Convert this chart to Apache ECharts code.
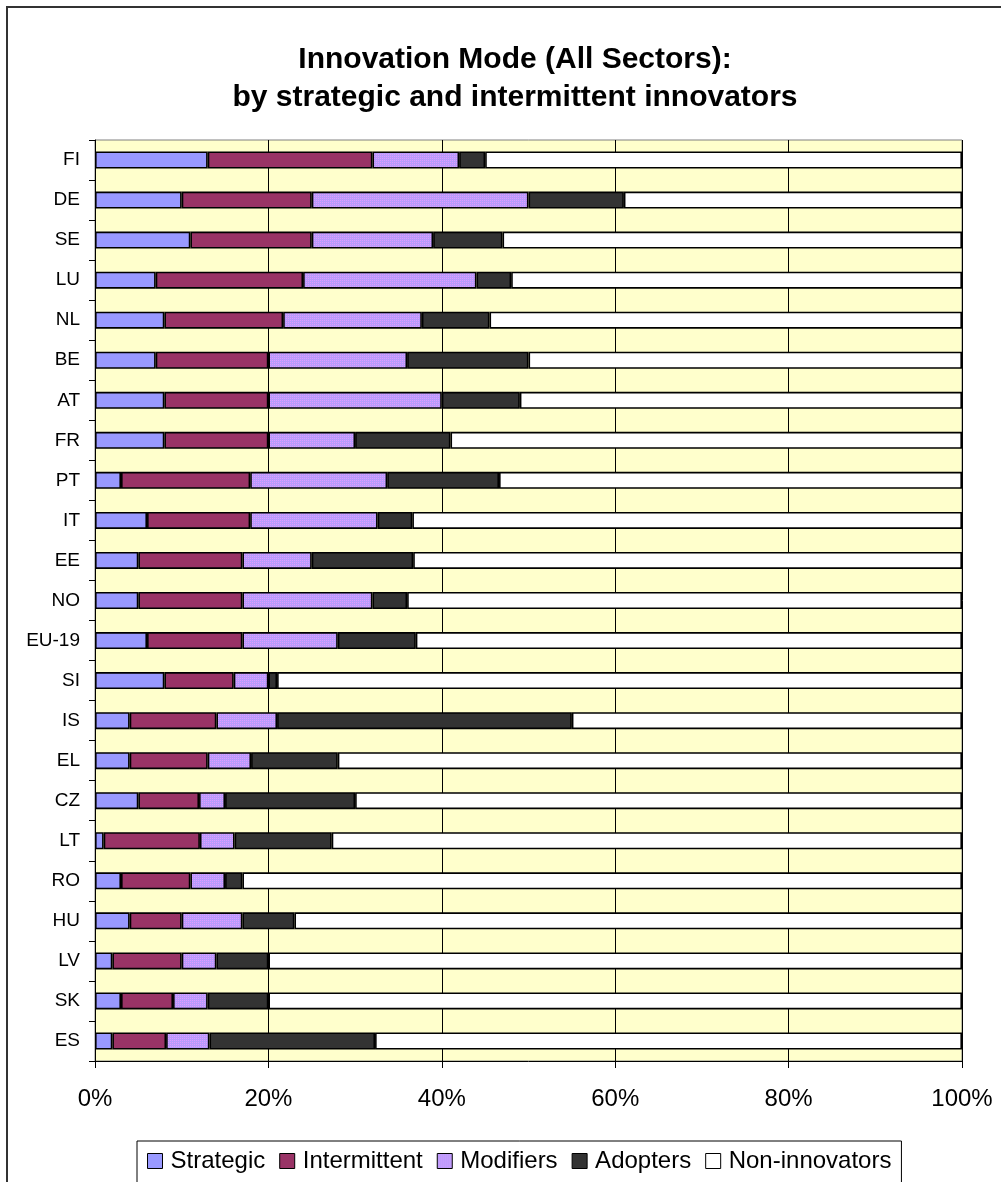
<!DOCTYPE html>
<html>
<head>
<meta charset="utf-8">
<title>Innovation Mode (All Sectors)</title>
<script src="https://cdn.jsdelivr.net/npm/echarts@6/dist/echarts.min.js"></script>
<style>
  html, body { margin: 0; padding: 0; background: #ffffff; }
  #chart { width: 1001px; height: 1182px; }
</style>
</head>
<body>
<div id="chart"></div>
<script>
// Countries, top to bottom
const categories = ['FI', 'DE', 'SE', 'LU', 'NL', 'BE', 'AT', 'FR', 'PT', 'IT', 'EE', 'NO', 'EU-19',
  'SI', 'IS', 'EL', 'CZ', 'LT', 'RO', 'HU', 'LV', 'SK', 'ES'];

// Share of enterprises per innovation mode (%)
const strategic    = [13, 10, 11, 7, 8, 7, 8, 8, 3, 6, 5, 5, 6, 8, 4, 4, 5, 1, 3, 4, 2, 3, 2];
const intermittent = [19, 15, 14, 17, 13.7, 13, 12, 12, 14.9, 11.9, 12, 12, 11, 8, 10, 9, 7, 11.1, 8, 6, 8, 6, 6.2];
const modifiers    = [10, 25, 14, 20, 16, 16, 20, 10, 15.8, 14.7, 8, 15, 11, 4, 7, 5, 3, 4, 4, 7, 4, 4, 5];
const adopters     = [3, 11, 8, 4, 7.8, 14, 9, 11, 12.9, 4, 11.7, 4, 9, 1, 34, 10, 15, 11.2, 2, 6, 6, 7, 19.1];
const nonInnovators = [55, 39, 53, 52, 54.5, 50, 51, 59, 53.4, 63.4, 63.3, 64, 63, 79, 45, 72, 70, 72.7, 83, 77, 80, 80, 67.7];

// Axis ticks
const xTicks = [0, 20, 40, 60, 80, 100];

const FONT = '"Liberation Sans", Arial, sans-serif';

// Fine lavender dither used for the "Modifiers" segments
function ditherPattern() {
  const c = document.createElement('canvas');
  c.width = 2; c.height = 2;
  const ctx = c.getContext('2d');
  ctx.fillStyle = '#b89cfc'; ctx.fillRect(0, 0, 2, 2);
  ctx.fillStyle = '#e09cff'; ctx.fillRect(0, 0, 1, 1);
  return { image: c, repeat: 'repeat' };
}

const segments = [
  { name: 'Strategic', data: strategic, color: '#9999ff' },
  { name: 'Intermittent', data: intermittent, color: '#993366' },
  { name: 'Modifiers', data: modifiers, color: ditherPattern() },
  { name: 'Adopters', data: adopters, color: '#333333' },
  { name: 'Non-innovators', data: nonInnovators, color: '#ffffff' }
];

const chart = echarts.init(document.getElementById('chart'), null, { renderer: 'canvas' });

chart.setOption({
  backgroundColor: '#ffffff',
  animation: false,
  title: {
    text: 'Innovation Mode (All Sectors):\nby strategic and intermittent innovators',
    left: 510,
    top: 36,
    textAlign: 'center',
    textStyle: {
      fontFamily: FONT,
      fontSize: 30,
      fontWeight: 'bold',
      color: '#000000',
      lineHeight: 38
    }
  },
  graphic: [{
    type: 'rect',
    silent: true,
    z: 100,
    shape: { x: 7, y: 7, width: 1100, height: 1300 },
    style: { fill: 'none', stroke: '#333333', lineWidth: 2 }
  }],
  legend: {
    data: segments.map(s => s.name),
    left: 137,
    top: 1141,
    orient: 'horizontal',
    padding: [8, 10, 10, 10],
    itemWidth: 15,
    itemHeight: 15,
    itemGap: 14,
    backgroundColor: '#ffffff',
    borderColor: '#000000',
    borderWidth: 1,
    icon: 'rect',
    itemStyle: { borderColor: '#000000', borderWidth: 1 },
    textStyle: { fontFamily: FONT, fontSize: 24, color: '#000000', padding: [0, 0, 0, 3] }
  },
  grid: {
    left: 95,
    top: 140,
    right: 39,
    bottom: 121,
    show: true,
    backgroundColor: '#ffffcc',
    borderColor: '#808080',
    borderWidth: 1
  },
  xAxis: {
    type: 'value',
    min: xTicks[0],
    max: xTicks[xTicks.length - 1],
    interval: 20,
    axisLine: { show: true, lineStyle: { color: '#000000', width: 1 } },
    axisTick: { show: true, inside: false, length: 7, lineStyle: { color: '#000000' } },
    splitLine: { show: true, lineStyle: { color: '#000000', width: 1 } },
    axisLabel: {
      formatter: '{value}%',
      margin: 26,
      fontFamily: FONT,
      fontSize: 24,
      color: '#000000'
    }
  },
  yAxis: {
    type: 'category',
    data: categories,
    inverse: true,
    axisLine: { show: true, lineStyle: { color: '#000000', width: 1 } },
    axisTick: { show: true, inside: false, length: 6, lineStyle: { color: '#000000' } },
    splitLine: { show: false },
    axisLabel: {
      margin: 15,
      fontFamily: FONT,
      fontSize: 19,
      color: '#000000'
    }
  },
  series: segments.map(s => ({
    name: s.name,
    type: 'bar',
    stack: 'total',
    data: s.data,
    barWidth: 17,
    itemStyle: {
      color: s.color,
      borderColor: '#000000',
      borderWidth: 1.6
    },
    emphasis: { disabled: true }
  }))
});
</script>
</body>
</html>
